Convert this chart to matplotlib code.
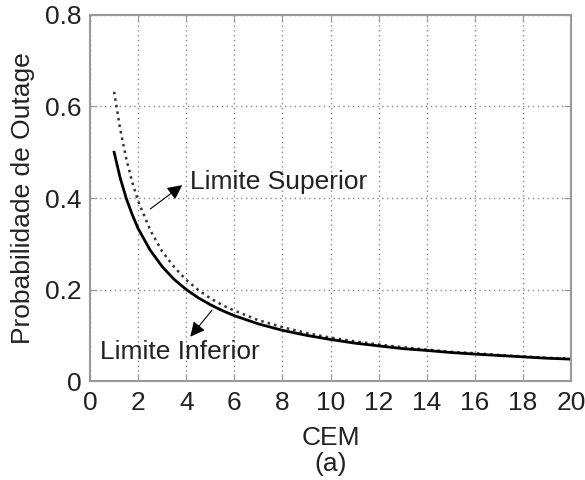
import numpy as np
import matplotlib
matplotlib.use('Agg')
import matplotlib.pyplot as plt

# CEM values and outage probabilities (lower / upper bounds)
cem = [1, 1.25, 1.5, 1.75, 2, 2.5, 3, 3.5, 4, 4.5, 5, 5.5, 6,
       7, 8, 9, 10, 11, 12, 13, 14, 15, 16, 17, 18, 19, 20]
limite_inferior = [0.500, 0.444, 0.400, 0.364, 0.333, 0.286, 0.250, 0.222, 0.200,
                   0.182, 0.167, 0.154, 0.143, 0.125, 0.111, 0.100, 0.091, 0.083,
                   0.077, 0.071, 0.067, 0.0625, 0.059, 0.056, 0.053, 0.050, 0.048]
limite_superior = [0.632, 0.551, 0.487, 0.435, 0.393, 0.330, 0.283, 0.249, 0.221,
                   0.199, 0.181, 0.166, 0.154, 0.133, 0.118, 0.105, 0.095, 0.087,
                   0.080, 0.074, 0.069, 0.064, 0.061, 0.057, 0.054, 0.051, 0.049]

xticks = np.arange(0, 21, 2)
yticks = [0, 0.2, 0.4, 0.6, 0.8]

plt.rcParams['font.family'] = ['Liberation Sans', 'DejaVu Sans']
fs = 19

fig = plt.figure(figsize=(5.85, 4.8), dpi=100)
ax = fig.add_axes([0.154, 0.206, 0.822, 0.763])

ax.plot(cem, limite_superior, linestyle=':', color='#333333', linewidth=1.8)
ax.plot(cem, limite_inferior, linestyle='-', color='black', linewidth=2.0)

ax.set_xlim(0, 20)
ax.set_ylim(0, 0.8)
ax.set_xticks(xticks)
ax.set_yticks(yticks)
ax.set_yticklabels(['0', '0.2', '0.4', '0.6', '0.8'])
ax.tick_params(direction='in', top=True, right=True, labelsize=fs,
               colors='#999999', labelcolor='#222222', length=5)
ax.tick_params(axis='x', pad=7)
ax.tick_params(axis='y', pad=6)
ax.grid(True, linestyle=(0, (1, 2.5)), color='#888888', linewidth=1.0)
for s in ax.spines.values():
    s.set_color('#999999')
    s.set_linewidth(1.5)

ax.set_xlabel('CEM\n(a)', fontsize=fs, color='#222222', linespacing=1.1, labelpad=8)
ax.set_ylabel('Probabilidade de Outage', fontsize=fs, color='#222222', labelpad=7)

arrow = dict(arrowstyle='-|>', color='black', lw=0.8, mutation_scale=22, shrinkA=0, shrinkB=0)
ax.annotate('', xy=(3.83, 0.428), xytext=(2.5, 0.376), arrowprops=arrow)
ax.text(4.15, 0.435, 'Limite Superior', fontsize=fs, color='#222222', va='center', ha='left')
ax.annotate('', xy=(4.17, 0.097), xytext=(5.07, 0.155), arrowprops=arrow)
ax.text(0.42, 0.063, 'Limite Inferior', fontsize=fs, color='#222222', va='center', ha='left')

fig.savefig('out.png', dpi=100)
